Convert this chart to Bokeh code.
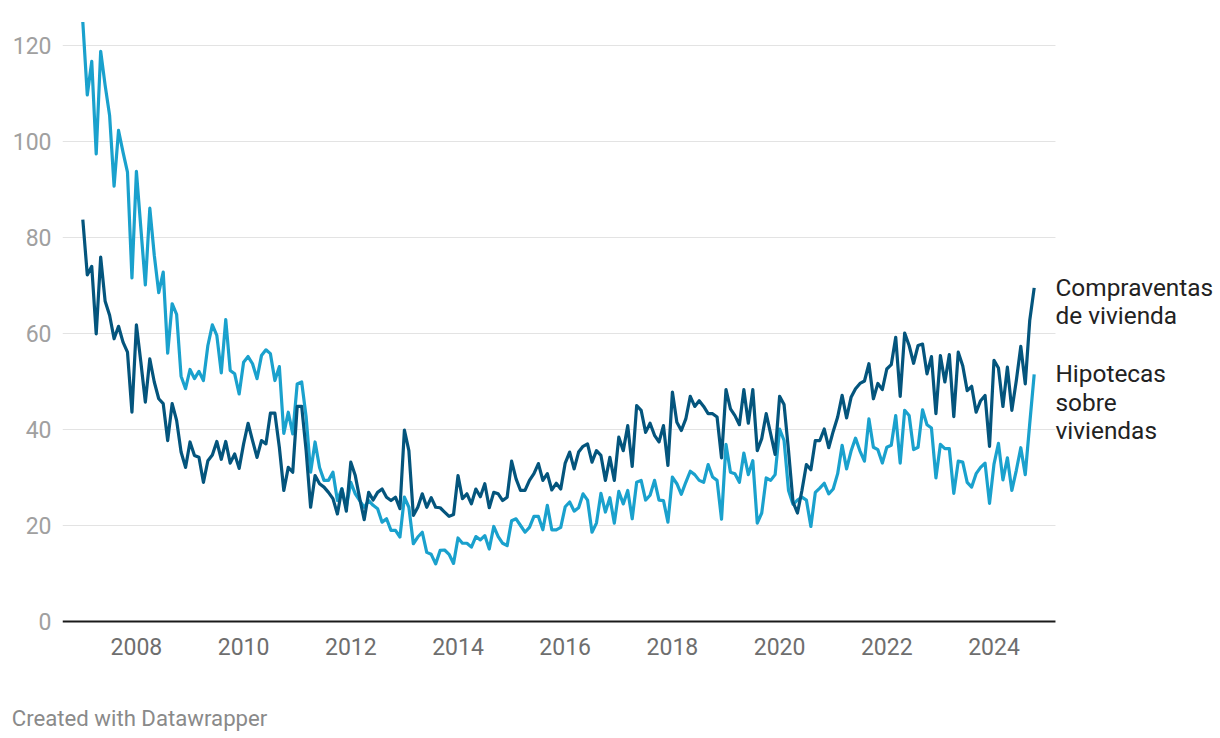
from bokeh.plotting import figure
from bokeh.models import Range1d, FixedTicker, Label, ColumnDataSource, LinearAxis
from bokeh.embed import file_html
from bokeh.resources import INLINE

# ---- data (monthly, starting January 2007) ----
start_year = 2007
compraventas = [
    83.7, 72.2, 74.0, 59.9, 75.9, 66.7, 63.8, 58.9, 61.5, 58.2,
    56.1, 43.6, 61.8, 54.0, 45.7, 54.7, 49.9, 46.4, 45.4, 37.7,
    45.4, 41.9, 35.3, 32.1, 37.4, 34.6, 34.2, 29.0, 33.5, 34.7,
    37.5, 33.8, 37.5, 33.0, 34.9, 31.9, 37.0,
    41.3, 37.7, 34.2, 37.7, 37.0, 43.4, 43.4, 36.3, 27.3, 32.1,
    31.1, 44.8, 44.8, 35.6, 23.8, 30.4, 28.7, 28.0, 26.9, 25.6,
    22.4, 27.6, 23.0, 33.2, 30.4, 25.6, 21.2, 26.9, 25.3, 26.9,
    27.6, 25.9, 25.2, 25.9, 23.5, 39.9,
    35.6, 22.1, 23.8, 26.6, 23.8, 25.8, 23.8, 23.7, 22.8, 21.9,
    22.3, 30.4, 25.6, 26.6, 24.5, 27.6, 26.0, 28.7, 23.7, 26.9,
    26.6, 25.2, 25.9, 33.4, 29.7, 27.3, 27.3, 29.4, 30.8, 32.9,
    29.4, 30.8, 27.4, 28.8, 27.6, 33.0,
    35.3, 31.8, 35.3, 36.5, 37.0, 33.2, 35.6, 34.6, 29.4, 34.2,
    29.4, 38.4, 35.6, 40.8, 32.3, 45.0, 44.0, 39.4, 41.3, 38.8,
    37.4, 40.8, 32.5, 47.8, 41.5, 39.8, 42.2, 46.9, 44.8, 46.0,
    44.8, 43.3, 43.3, 42.6, 34.1, 48.3,
    44.3, 42.9, 41.0, 48.3, 41.3, 48.3, 35.6, 38.1, 43.3, 39.1,
    34.8, 46.9, 45.2, 35.6, 24.9, 22.6, 27.3, 32.7, 31.6, 37.7,
    37.7, 40.1, 36.2, 39.6, 42.6, 47.1, 42.4, 46.7, 48.5, 49.6,
    50.1, 53.7, 46.4, 49.6, 48.3, 52.6,
    53.5, 59.2, 46.9, 60.1, 57.5, 53.8, 57.5, 57.8, 51.6, 55.2,
    43.3, 55.4, 49.9, 55.6, 42.7, 56.1, 53.3, 48.1, 49.0, 43.6,
    46.0, 47.1, 36.5, 54.4, 52.8, 44.8, 53.0, 44.0, 50.2, 57.3,
    49.5, 62.7, 69.5,
]
hipotecas = [
    124.9, 109.7, 116.7, 97.4, 118.8, 111.7, 105.4, 90.7, 102.3, 97.8,
    93.6, 71.6, 93.8, 81.9, 70.1, 86.1, 76.3, 68.5, 72.8, 55.9,
    66.2, 64.0, 51.1, 48.5, 52.5, 50.6, 52.1, 50.2, 57.5, 61.8,
    59.6, 51.8, 62.9, 52.3, 51.6, 47.4, 54.0,
    55.2, 53.7, 50.6, 55.4, 56.6, 55.8, 50.2, 53.1, 39.2, 43.6,
    39.1, 49.5, 49.9, 42.6, 31.1, 37.4, 32.1, 29.4, 29.4, 31.1,
    25.2, 27.7, 23.8, 29.0, 26.6, 25.2, 23.8, 25.2, 24.2, 23.5,
    20.7, 21.4, 19.0, 19.0, 17.6, 25.9,
    23.8, 16.2, 17.6, 18.6, 14.4, 14.0, 12.0, 14.8, 14.9, 14.0,
    12.1, 17.4, 16.3, 16.3, 15.5, 17.7, 17.0, 17.9, 15.1, 19.8,
    17.7, 16.3, 15.8, 21.0, 21.4, 20.0, 18.6, 19.6, 21.9, 21.9,
    19.1, 24.2, 19.1, 19.1, 19.6, 23.9,
    24.9, 23.0, 23.7, 26.6, 25.3, 18.6, 20.5, 26.7, 22.8, 25.8,
    20.5, 27.1, 24.5, 27.3, 21.4, 29.0, 29.4, 25.3, 26.3, 29.4,
    25.3, 25.2, 20.7, 30.1, 28.7, 26.5, 29.0, 31.3, 30.6, 29.4,
    29.0, 32.7, 30.1, 29.4, 21.3, 36.9,
    31.1, 30.8, 29.0, 35.1, 30.6, 33.5, 20.5, 22.6, 29.9, 29.4,
    30.6, 40.1, 37.7, 27.3, 24.4, 25.3, 25.9, 25.3, 19.8, 26.9,
    27.8, 28.8, 26.6, 27.6, 30.8, 36.7, 31.8, 35.5, 38.2, 35.5,
    33.4, 42.2, 36.3, 35.8, 33.0, 36.3,
    36.7, 42.9, 33.0, 44.0, 42.9, 35.8, 36.3, 44.1, 41.0, 40.3,
    29.9, 36.9, 36.0, 36.0, 26.7, 33.4, 33.2, 29.0, 28.0, 30.8,
    32.1, 33.0, 24.6, 32.8, 37.1, 29.5, 34.1, 27.3, 31.5, 36.2,
    30.6, 41.2, 51.5,
]
year_ticks = [2008, 2010, 2012, 2014, 2016, 2018, 2020, 2022, 2024]
value_ticks = [0, 20, 40, 60, 80, 100, 120]
lines_compraventas = ["Compraventas", "de vivienda"]
lines_hipotecas = ["Hipotecas", "sobre", "viviendas"]
footer_text = "Created with Datawrapper"

# ---- build ----
n = min(len(compraventas), len(hipotecas))
xs = [start_year + i / 12 for i in range(n)]
src = ColumnDataSource(dict(x=xs, c=compraventas[:n], h=hipotecas[:n]))

X0, X_GRID_END, X1 = 2006.621, 2025.147, 2028.226
p = figure(width=1220, height=738, output_backend="svg", toolbar_location=None,
           x_range=Range1d(X0, X1), y_range=Range1d(-0.833, 126.25),
           min_border_left=62, min_border_right=0, min_border_top=15,
           min_border_bottom=113)
p.outline_line_color = None
p.background_fill_color = "white"
p.border_fill_color = "white"

FONT = "Roboto"
p.xaxis.ticker = FixedTicker(ticks=year_ticks)
p.yaxis.ticker = FixedTicker(ticks=value_ticks)
for ax in (p.xaxis, p.yaxis):
    ax.axis_line_color = None
    ax.major_tick_line_color = None
    ax.minor_tick_line_color = None
    ax.major_tick_out = 0
    ax.major_tick_in = 0
    ax.major_label_text_font = FONT
    ax.major_label_text_font_size = "23px"
p.xaxis.major_label_standoff = 12
p.xaxis.major_label_text_color = "#6e6e6e"
p.yaxis.major_label_standoff = 11
p.yaxis.major_label_text_color = "#a0a0a0"

p.xgrid.visible = False
p.ygrid.visible = False

# horizontal grid lines, stopping where the line labels begin
grid_vals = [v for v in value_ticks if v != 0]
p.segment(x0=[X0] * len(grid_vals), x1=[X_GRID_END] * len(grid_vals),
          y0=grid_vals, y1=grid_vals, line_color="#e3e3e3", line_width=1)

p.line("x", "h", source=src, line_color="#1aa1cd", line_width=3.2, line_join="round")
p.line("x", "c", source=src, line_color="#04557d", line_width=3.2, line_join="round")

# baseline at zero
p.segment(x0=[X0], x1=[X_GRID_END], y0=[0], y1=[0], line_color="#1a1a1a", line_width=2)

LINE_STEP = 28.4
for lines, last in ((lines_compraventas, compraventas[n - 1]),
                    (lines_hipotecas, hipotecas[n - 1])):
    for k, t in enumerate(lines):
        p.add_layout(Label(x=X_GRID_END, y=last, text=t, text_font=FONT,
                           text_font_size="24.4px", text_color="#222222",
                           text_baseline="middle", text_align="left",
                           y_offset=0.5 - k * LINE_STEP))

# credit line: a second, bare axis below whose single label is the credit text
footer_x = 2008.058  # horizontal centre of the credit line
credit_axis = LinearAxis(ticker=FixedTicker(ticks=[footer_x]),
                         major_label_overrides={footer_x: footer_text},
                         axis_line_color=None, major_tick_line_color=None,
                         minor_tick_line_color=None, major_tick_in=0, major_tick_out=0,
                         major_label_standoff=47, major_label_text_font=FONT,
                         major_label_text_font_size="22.2px",
                         major_label_text_color="#8a8a8a")
p.add_layout(credit_axis, "below")

open("out.html", "w").write(file_html(p, INLINE))
